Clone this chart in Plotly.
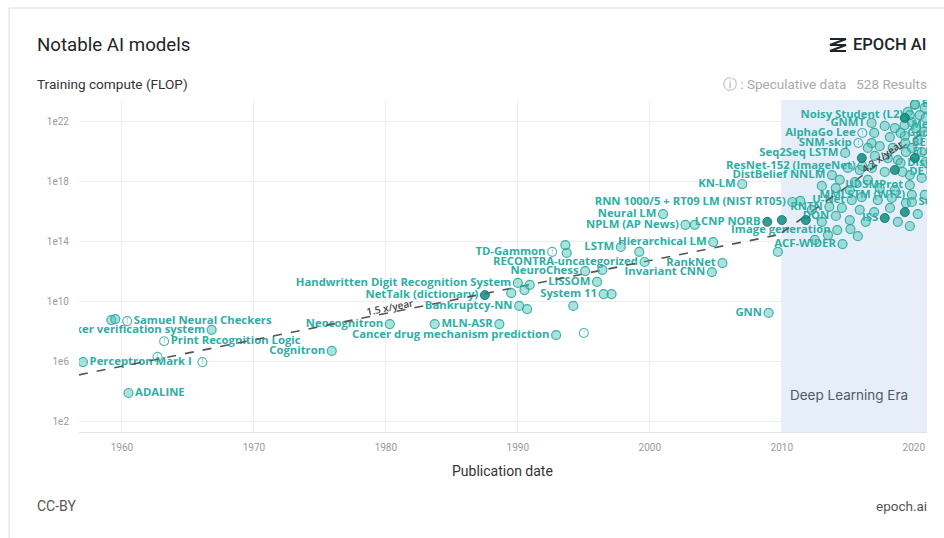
import math
import plotly.graph_objects as go

# ---------------- data ----------------
# Labelled models: name, publication year, training compute (FLOP),
# label side (L/R) and marker kind (reg / dark / spec = speculative)
label_names = [
    "Perceptron Mark I", "ADALINE", "Samuel Neural Checkers", "Speaker verification system",
    "Print Recognition Logic", "Cognitron", "Neocognitron", "MLN-ASR",
    "Cancer drug mechanism prediction", "Bankruptcy-NN", "NetTalk (dictionary)",
    "Handwritten Digit Recognition System", "TD-Gammon", "LSTM", "RECONTRA-uncategorized",
    "NeuroChess", "LISSOM", "System 11", "Invariant CNN", "RankNet", "Hierarchical LM",
    "ACF-WIDER", "Image generation", "LCNP NORB", "NPLM (AP News)", "Neural LM",
    "RNN 1000/5 + RT09 LM (NIST RT05)", "KN-LM", "DistBelief NNLM", "ResNet-152 (ImageNet)",
    "Seq2Seq LSTM", "SNM-skip", "AlphaGo Lee", "GNMT", "Noisy Student (L2)", "ISS", "DQN",
    "RNTN", "U-Net", "MMLSTM (WT2)", "UDSMProt", "GNN", "BigSSL", "Megatron-BERT",
    "GenSen", "BERT-Large", "ELMo", "DistilBERT", "DETR", "SciBERT",
]
label_years = [
    1957.05, 1960.5, 1960.4, 1966.8,
    1963.2, 1975.9, 1980.3, 1988.6,
    1992.9, 1990.1, 1987.5,
    1990.0, 1992.6, 1997.8, 1999.6,
    1995.1, 1996.0, 1996.5, 2004.7, 2005.5, 2004.8,
    2014.6, 2014.2, 2008.9, 2002.7, 2001.0,
    2010.8, 2007.0, 2013.8, 2016.1,
    2014.8, 2015.8, 2016.1, 2016.8, 2019.7, 2017.8, 2014.1,
    2013.6, 2015.3, 2019.85, 2019.7, 2009.0, 2020.1, 2019.3,
    2019.0, 2019.35, 2019.4, 2019.0, 2019.15, 2019.85,
]
label_flop = [
    8.5e5, 7.4e3, 4.6e8, 1.2e8,
    2.1e7, 4.7e6, 2.9e8, 2.9e8,
    5.4e7, 4.7e9, 2.5e10,
    1.6e11, 1.9e13, 4.0e13, 4.0e12,
    1.0e12, 1.9e11, 2.9e10, 8.5e11, 3.4e12, 8.5e13,
    6.3e13, 5.4e14, 1.9e15, 1.2e15, 6.3e15,
    4.0e16, 6.3e17, 2.5e18, 1.0e19,
    7.4e19, 3.4e20, 1.6e21, 7.4e21, 2.5e22, 3.4e15, 4.7e15,
    1.9e16, 5.4e16, 1.2e17, 5.4e17, 1.6e9, 1.3e23, 5.4e21,
    1.6e21, 3.4e20, 8.5e19, 1.6e19, 4.0e18, 4.0e16,
]
label_side = [
    "R", "R", "R", "L",
    "R", "L", "L", "L",
    "L", "L", "L",
    "L", "L", "L", "L",
    "L", "L", "L", "L", "L", "L",
    "L", "L", "L", "L", "L",
    "L", "L", "L", "L",
    "L", "L", "L", "L", "L", "L", "L",
    "L", "L", "L", "L", "L", "R", "R",
    "R", "R", "R", "R", "R", "R",
]
label_kind = [
    "reg", "reg", "spec", "reg",
    "spec", "reg", "reg", "reg",
    "reg", "reg", "dark",
    "reg", "spec", "reg", "reg",
    "reg", "reg", "reg", "reg", "reg", "reg",
    "reg", "reg", "dark", "reg", "reg",
    "reg", "reg", "reg", "reg",
    "reg", "spec", "spec", "reg", "reg", "dark", "reg",
    "reg", "reg", "reg", "reg", "reg", "reg", "reg",
    "reg", "reg", "reg", "reg", "reg", "reg",
]

# Unlabelled models
other_years = [
    1959.2, 1959.5, 1983.7, 1990.7, 1989.5, 1990.5, 1990.9, 1994.2, 1993.7, 1993.6,
    1996.4, 1997.1, 1999.2, 2003.4, 2009.7, 2015.2, 2011.4, 2016.8, 2017.0,
    2020.08, 2020.83, 2019.55, 2020.45, 2020.9, 2019.85, 2017.8, 2018.56, 2020.15, 2020.75,
    2018.18, 2019.32, 2020.3, 2016.52, 2017.42, 2018.41, 2019.85, 2020.6, 2017.05, 2018.03,
    2018.79, 2020.9, 2015.0, 2015.9, 2016.82, 2017.8, 2019.7, 2020.6, 2014.39, 2015.53,
    2016.52, 2013.03, 2014.09, 2015.15, 2017.42, 2018.56, 2020.83, 2016.06, 2017.27, 2018.33,
    2019.4, 2012.27, 2014.55, 2015.9, 2017.0, 2018.2, 2020.3, 2013.03, 2015.15, 2016.36,
    2018.79, 2019.7, 2013.5, 2015.76, 2012.5,
]
other_flop = [
    5.4e8, 6.3e8, 2.9e8, 2.9e9, 3.4e10, 5.4e10, 1.2e11, 4.7e9, 1.6e13, 5.4e13,
    1.2e12, 2.9e10, 1.9e13, 1.2e15, 1.9e13, 6.3e14, 4.7e16, 3.4e20, 1.6e21,
    1.2e23, 7.4e22, 4.0e22, 2.5e22, 1.6e22, 8.5e21, 4.7e21, 3.4e21, 3.4e21, 1.9e21,
    8.5e20, 1.0e21, 5.4e20, 1.6e20, 2.1e20, 1.6e20, 1.6e20, 8.5e19, 4.7e19, 3.4e19,
    2.5e19, 1.9e19, 7.4e18, 5.4e18, 7.4e18, 4.0e18, 2.5e18, 1.6e18, 1.2e18, 8.5e17,
    1.2e18, 4.7e17, 3.4e17, 2.5e17, 3.4e17, 2.5e17, 1.2e17, 8.5e16, 5.4e16, 7.4e16,
    3.4e16, 1.2e16, 1.6e16, 1.2e16, 8.5e15, 1.6e16, 6.3e15, 1.9e15, 2.5e15, 1.9e15,
    1.9e15, 1.0e15, 2.5e14, 2.1e14, 1.2e14,
]
dark_years = [2019.32, 2016.06, 2020.08, 2018.56, 2011.82, 2010.0, 2019.32]
dark_flop = [1.6e22, 3.4e19, 3.4e19, 5.4e18, 2.5e15, 2.5e15, 8.5e15]
spec_years = [1966.1, 1962.7, 1995.0]
spec_flop = [8.5e5, 1.9e6, 7.4e7]

# Growth trends: start point, end year and yearly growth factor
trend_start_years = [1956.75, 2010.0]
trend_start_flop = [1.2e5, 3.6e14]
trend_end_years = [2010.0, 2021.0]
trend_rates = [1.5, 4.2]
trend_label_years = [1980.3, 2017.6]

x_ticks = [1960, 1970, 1980, 1990, 2000, 2010, 2020]
y_ticks = [1e2, 1e6, 1e10, 1e14, 1e18, 1e22]
y_tick_text = ["1e2", "1e6", "1e10", "1e14", "1e18", "1e22"]
x_range = [1956.75, 2021.0]
y_log_range = [1.27, 23.4]
dl_era_start = 2010.0

# ---------------- layout geometry ----------------
W, H = 944, 538
ML, MR, MT, MB = 79, 17, 100, 106
PW, PH = W - ML - MR, H - MT - MB


def px(x):
    return (x - ML) / PW


def py(y):
    return (H - MB - y) / PH


TEAL_FILL = "rgba(70,190,180,0.45)"
TEAL_LINE = "rgba(36,166,154,0.85)"
DARK_FILL = "rgba(18,138,128,0.85)"
LABEL_COLOR = "#2eaea4"
LABEL_FONT = dict(family="Open Sans", size=11.3, color=LABEL_COLOR, weight=700)

fig = go.Figure()

# Model labels (under the marks)
for side, pos in (("L", "middle left"), ("R", "middle right")):
    idx = [i for i, s in enumerate(label_side) if s == side]
    fig.add_trace(go.Scatter(
        x=[label_years[i] for i in idx], y=[label_flop[i] for i in idx],
        text=[label_names[i] for i in idx], mode="markers+text", textposition=pos,
        marker=dict(size=9, color="rgba(0,0,0,0)"),
        textfont=LABEL_FONT, hoverinfo="skip", cliponaxis=True,
    ))

# Trend lines
for sy, sf, ey, rate in zip(trend_start_years, trend_start_flop, trend_end_years, trend_rates):
    fig.add_trace(go.Scatter(
        x=[sy, ey], y=[sf, sf * rate ** (ey - sy)], mode="lines",
        line=dict(color="#555555", width=1.6, dash="dash"), hoverinfo="skip",
    ))

# Regular markers
reg_x = other_years + [y for y, k in zip(label_years, label_kind) if k == "reg"]
reg_y = other_flop + [f for f, k in zip(label_flop, label_kind) if k == "reg"]
fig.add_trace(go.Scatter(
    x=reg_x, y=reg_y, mode="markers",
    marker=dict(size=9, color=TEAL_FILL, line=dict(color=TEAL_LINE, width=1.2)),
    hoverinfo="skip",
))

# Darker markers
dk_x = dark_years + [y for y, k in zip(label_years, label_kind) if k == "dark"]
dk_y = dark_flop + [f for f, k in zip(label_flop, label_kind) if k == "dark"]
fig.add_trace(go.Scatter(
    x=dk_x, y=dk_y, mode="markers",
    marker=dict(size=9, color=DARK_FILL, line=dict(color="rgba(15,120,110,0.9)", width=1)),
    hoverinfo="skip",
))

# Speculative markers
sp_x = spec_years + [y for y, k in zip(label_years, label_kind) if k == "spec"]
sp_y = spec_flop + [f for f, k in zip(label_flop, label_kind) if k == "spec"]
fig.add_trace(go.Scatter(
    x=sp_x, y=sp_y, mode="markers+text", text=["!"] * len(sp_x),
    textposition="middle center",
    textfont=dict(size=7, color="rgba(50,170,160,0.9)", family="Open Sans"),
    marker=dict(size=9, symbol="circle-open", color="rgba(50,170,160,0.85)", line=dict(width=1.1)),
    hoverinfo="skip",
))

# Trend labels
px_per_year = PW / (x_range[1] - x_range[0])
px_per_decade = PH / (y_log_range[1] - y_log_range[0])
annotations = []
for sy, sf, rate, ly in zip(trend_start_years, trend_start_flop, trend_rates, trend_label_years):
    val = sf * rate ** (ly - sy)
    ang = math.degrees(math.atan(math.log10(rate) * px_per_decade / px_per_year))
    annotations.append(dict(
        x=ly, y=math.log10(val), xref="x", yref="y", text=f"{rate} x/year",
        showarrow=False, textangle=-ang, yshift=6,
        font=dict(family="Open Sans", size=10, color="#444444", weight=600),
    ))

# Deep-learning era band
shapes = [dict(type="rect", xref="x", yref="paper", x0=dl_era_start, x1=x_range[1], y0=0, y1=1,
               fillcolor="#e6eefa", line=dict(width=0), layer="below")]
annotations.append(dict(x=2015.1, y=py(405), xref="x", yref="paper", text="Deep Learning Era",
                        showarrow=False, font=dict(family="Inter", size=13.5, color="#505a5f")))

# Keep labels that run past the right edge of the plot from spilling into the margin
shapes.append(dict(type="rect", xref="paper", yref="paper", x0=1.0005, x1=px(960), y0=0, y1=1.02,
                   fillcolor="white", line=dict(width=0), layer="above"))

# Card border
shapes.append(dict(type="rect", xref="paper", yref="paper", x0=px(9), x1=px(990), y0=py(600), y1=py(8),
                   line=dict(color="#dddddd", width=1), fillcolor="rgba(0,0,0,0)", layer="below"))

# Logo strokes
logo = "M {} {} L {} {} L {} {} L {} {} L {} {} L {} {}".format(
    px(830), py(39), px(846), py(39), px(830), py(45), px(846), py(45), px(830), py(51), px(846), py(51))
shapes.append(dict(type="path", xref="paper", yref="paper", path=logo,
                   line=dict(color="#1d2529", width=2.2)))

# Header / footer texts
TXT = "Roboto"
annotations += [
    dict(x=px(35), y=py(45), text="Notable AI models", xanchor="left",
         font=dict(family=TXT, size=18.7, color="#1d2529")),
    dict(x=px(851), y=py(45), text="EPOCH AI", xanchor="left",
         font=dict(family=TXT, size=16.5, color="#1d2529", weight=500)),
    dict(x=px(35), y=py(84), text="Training compute (FLOP)", xanchor="left",
         font=dict(family=TXT, size=13.6, color="#333333")),
    dict(x=px(929), y=py(84), text="ⓘ : Speculative data&nbsp;&nbsp;&nbsp;528 Results", xanchor="right",
         font=dict(family=TXT, size=13.5, color="#aaaaaa")),
    dict(x=px(502), y=py(471), text="Publication date", xanchor="center",
         font=dict(family=TXT, size=14, color="#333333")),
    dict(x=px(35), y=py(506), text="CC-BY", xanchor="left",
         font=dict(family=TXT, size=14, color="#555555")),
    dict(x=px(929), y=py(506), text="epoch.ai", xanchor="right",
         font=dict(family=TXT, size=13.5, color="#555555")),
]
for a in annotations[-7:]:
    a.update(xref="paper", yref="paper", showarrow=False, yanchor="middle")

fig.update_layout(
    width=W, height=H, margin=dict(l=ML, r=MR, t=MT, b=MB),
    paper_bgcolor="white", plot_bgcolor="rgba(0,0,0,0)", showlegend=False,
    shapes=shapes, annotations=annotations,
    xaxis=dict(range=x_range, tickvals=x_ticks, ticktext=[str(t) for t in x_ticks],
               showgrid=True, gridcolor="#efefef", zeroline=False, showline=True,
               linecolor="#e2e2e2", ticks="", ticklabelstandoff=6,
               tickfont=dict(family=TXT, size=10, color="#9a9a9a")),
    yaxis=dict(type="log", range=y_log_range, tickvals=y_ticks, ticktext=y_tick_text,
               showgrid=True, gridcolor="#efefef", zeroline=False, showline=False,
               ticks="", ticklabelstandoff=9,
               tickfont=dict(family=TXT, size=10, color="#9a9a9a")),
)

fig.write_html("out.html")
